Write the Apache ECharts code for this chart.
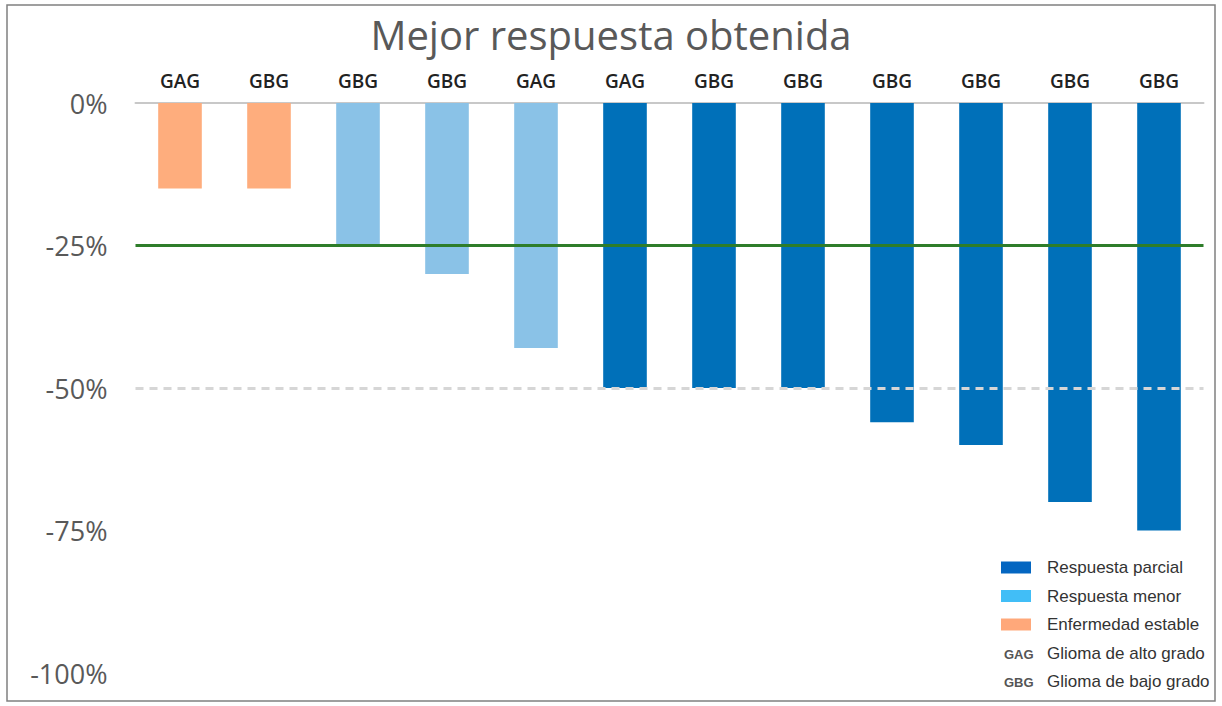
<!DOCTYPE html>
<html>
<head>
<meta charset="utf-8">
<script src="https://cdn.jsdelivr.net/npm/echarts@6/dist/echarts.min.js"></script>
<style>
  html, body { margin: 0; padding: 0; background: #fff; }
  #chart { width: 1222px; height: 706px; }
</style>
</head>
<body>
<div id="chart"></div>
<script>
// tipo de glioma de cada paciente (etiqueta arriba de la barra)
const tipos = ['GAG', 'GBG', 'GBG', 'GBG', 'GAG', 'GAG', 'GBG', 'GBG', 'GBG', 'GBG', 'GBG', 'GBG']
// mejor respuesta (%)
const valores = [-15, -15, -25, -30, -43, -50, -50, -50, -56, -60, -70, -75]
// categoria de respuesta por paciente
const respuesta = ['Enfermedad estable', 'Enfermedad estable', 'Respuesta menor', 'Respuesta menor', 'Respuesta menor',
  'Respuesta parcial', 'Respuesta parcial', 'Respuesta parcial', 'Respuesta parcial', 'Respuesta parcial', 'Respuesta parcial', 'Respuesta parcial']
const grupos = ['Respuesta parcial', 'Respuesta menor', 'Enfermedad estable']
const yTicks = [0, -25, -50, -75, -100]

const barColors = { 'Respuesta parcial': '#0070b9', 'Respuesta menor': '#8ac2e7', 'Enfermedad estable': '#fead7d' }
const legendColors = { 'Respuesta parcial': '#0466c1', 'Respuesta menor': '#41bef7', 'Enfermedad estable': '#ffa87a' }

const chart = echarts.init(document.getElementById('chart'), null, { renderer: 'svg' })

const series = grupos.map(function (g, gi) {
  const s = {
    name: g,
    type: 'bar',
    stack: 'total',
    barWidth: '49%',
    data: valores.map(function (v, i) { return respuesta[i] === g ? v : null }),
    itemStyle: { color: barColors[g] }
  }
  if (gi === 0) {
    s.markLine = {
      silent: true,
      symbol: 'none',
      label: { show: false },
      data: [
        { yAxis: -25, lineStyle: { color: '#2e7d2a', width: 3, type: 'solid' } },
        { yAxis: -50, lineStyle: { color: '#d6d6d6', width: 3, type: [8, 6] } }
      ]
    }
  }
  return s
})

const legendFont = '17px "Liberation Sans"'
const codeFont = 'bold 13px "Liberation Sans"'

const option = {
  animation: false,
  title: {
    text: 'Mejor respuesta obtenida',
    left: 'center',
    top: 9,
    textStyle: { fontFamily: 'Open Sans', fontSize: 40, fontWeight: 'normal', color: '#595959' }
  },
  legend: {
    orient: 'vertical',
    left: 996,
    top: 554,
    itemWidth: 30,
    itemHeight: 12,
    itemGap: 11.5,
    icon: 'rect',
    data: grupos.map(function (g) { return { name: g, itemStyle: { color: legendColors[g] } } }),
    textStyle: { fontFamily: 'Liberation Sans', fontSize: 17, color: '#333', padding: [0, 0, 0, 11] }
  },
  grid: { left: 135.5, right: 18.5, top: 103, bottom: 33 },
  xAxis: {
    type: 'category',
    position: 'top',
    data: tipos,
    axisLine: { lineStyle: { color: '#c8c8c8', width: 2 } },
    axisTick: { show: false },
    axisLabel: {
      interval: 0,
      margin: 13,
      fontFamily: 'Open Sans',
      fontSize: 19,
      fontWeight: 600,
      color: '#222'
    }
  },
  yAxis: {
    type: 'value',
    min: -100,
    max: 0,
    interval: 25,
    axisLine: { show: false },
    axisTick: { show: false },
    splitLine: { show: false },
    axisLabel: {
      margin: 28,
      fontFamily: 'Open Sans',
      fontSize: 27,
      color: '#595959',
      formatter: function (v) { return yTicks.indexOf(v) >= 0 ? v + '%' : '' }
    }
  },
  graphic: [
    { type: 'rect', shape: { x: 7, y: 5, width: 1208, height: 696 }, style: { fill: 'none', stroke: '#808080', lineWidth: 1.5 }, silent: true },
    { type: 'text', x: 1004, y: 654, style: { text: 'GAG', font: codeFont, fill: '#555', verticalAlign: 'middle' } },
    { type: 'text', x: 1047, y: 653, style: { text: 'Glioma de alto grado', font: legendFont, fill: '#333', verticalAlign: 'middle' } },
    { type: 'text', x: 1004, y: 682, style: { text: 'GBG', font: codeFont, fill: '#555', verticalAlign: 'middle' } },
    { type: 'text', x: 1047, y: 681, style: { text: 'Glioma de bajo grado', font: legendFont, fill: '#333', verticalAlign: 'middle' } }
  ],
  series: series
}

chart.setOption(option)
window.addEventListener('resize', function () { chart.resize() })
</script>
</body>
</html>
